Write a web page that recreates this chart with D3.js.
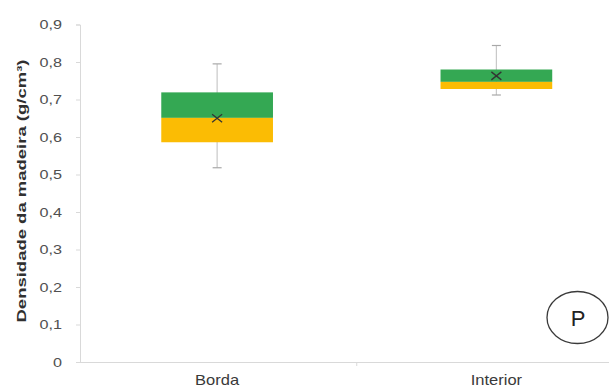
<!DOCTYPE html>
<html>
<head>
<meta charset="utf-8">
<script src="https://cdn.jsdelivr.net/npm/d3@7"></script>
<style>
  html, body { margin: 0; padding: 0; background: #fff; }
  svg { display: block; font-family: "Liberation Sans", Arial, sans-serif; }
</style>
</head>
<body>
<svg id="chart" width="609" height="392"></svg>
<script>
// Wood density by position (box: Q1 / median / Q3, whiskers min / max, × = mean)
const categories = ["Borda", "Interior"];
const minValues    = [0.518, 0.712];
const q1Values     = [0.586, 0.728];
const medianValues = [0.651, 0.747];
const q3Values     = [0.719, 0.780];
const maxValues    = [0.795, 0.844];
const meanValues   = [0.650, 0.763];
const yTicks = [0, 0.1, 0.2, 0.3, 0.4, 0.5, 0.6, 0.7, 0.8, 0.9];

const svg = d3.select("#chart");
const plotLeft = 80, plotRight = 636, plotTop = 24.5, plotBottom = 362;

const x = d3.scaleBand().domain(categories).range([77.5, plotRight]).paddingInner(0).paddingOuter(0);
const y = d3.scaleLinear().domain([0, 0.9]).range([plotBottom, plotTop]);
const fmt = d => d === 0 ? "0" : d3.format(".1f")(d).replace(".", ",");

// y axis
const yAxis = svg.append("g")
  .attr("transform", `translate(${plotLeft},0)`)
  .call(d3.axisLeft(y).tickValues(yTicks).tickFormat(fmt).tickSize(4));
yAxis.select(".domain").attr("stroke", "#d9d9d9");
yAxis.selectAll(".tick line").attr("stroke", "#d9d9d9");
yAxis.selectAll(".tick text")
  .attr("x", 0)
  .attr("transform", "translate(-18,0) scale(1.2,1)")
  .attr("fill", "#505050").attr("font-size", 13.5);

// x axis
const xAxis = svg.append("g")
  .attr("transform", `translate(0,${plotBottom})`)
  .call(d3.axisBottom(x).tickSize(0).tickPadding(13).tickSizeOuter(0));
xAxis.select(".domain").attr("stroke", "#d9d9d9").attr("d", `M${plotLeft},0.5H${609}`);
xAxis.selectAll(".tick text")
  .attr("transform", "scale(1.18,1)")
  .attr("fill", "#3a3a3a").attr("font-size", 14);
// category separator tick
xAxis.append("line")
  .attr("x1", x("Interior")).attr("x2", x("Interior"))
  .attr("y1", 0).attr("y2", 4).attr("stroke", "#d9d9d9");

// y axis title
svg.append("text")
  .attr("transform", `translate(26,191) rotate(-90)`)
  .attr("text-anchor", "middle")
  .attr("fill", "#303030")
  .attr("font-size", 13.5)
  .attr("font-weight", "bold")
  .attr("textLength", 263)
  .attr("lengthAdjust", "spacingAndGlyphs")
  .text("Densidade da madeira (g/cm³)");

const boxW = x.bandwidth() * 0.4;
const g = svg.append("g");

categories.forEach((c, i) => {
  const cx = x(c) + x.bandwidth() / 2;
  // whiskers
  g.append("line").attr("x1", cx).attr("x2", cx)
    .attr("y1", y(maxValues[i])).attr("y2", y(minValues[i]))
    .attr("stroke", "#c8c8c8").attr("stroke-width", 1.2);
  [maxValues[i], minValues[i]].forEach(v => {
    g.append("line").attr("x1", cx - 4.5).attr("x2", cx + 4.5)
      .attr("y1", y(v)).attr("y2", y(v))
      .attr("stroke", "#a8a8a8").attr("stroke-width", 1.2);
  });
  // upper box (median to Q3)
  g.append("rect")
    .attr("x", cx - boxW / 2).attr("width", boxW)
    .attr("y", y(q3Values[i])).attr("height", y(medianValues[i]) - y(q3Values[i]))
    .attr("fill", "#34a853");
  // lower box (Q1 to median)
  g.append("rect")
    .attr("x", cx - boxW / 2).attr("width", boxW)
    .attr("y", y(medianValues[i])).attr("height", y(q1Values[i]) - y(medianValues[i]))
    .attr("fill", "#fbbc04");
  // mean marker
  const my = y(meanValues[i]), sx = 5, sy = 4;
  g.append("path")
    .attr("d", `M${cx - sx},${my - sy}L${cx + sx},${my + sy}M${cx - sx},${my + sy}L${cx + sx},${my - sy}`)
    .attr("stroke", "#333").attr("stroke-width", 1.3).attr("fill", "none");
});

// panel label
svg.append("ellipse")
  .attr("cx", 577.5).attr("cy", 317.5).attr("rx", 30.5).attr("ry", 26)
  .attr("fill", "#fff").attr("stroke", "#3a3a3a").attr("stroke-width", 1.3);
svg.append("text")
  .attr("x", 578).attr("y", 326).attr("text-anchor", "middle")
  .attr("font-size", 22).attr("fill", "#222").text("P");
</script>
</body>
</html>
